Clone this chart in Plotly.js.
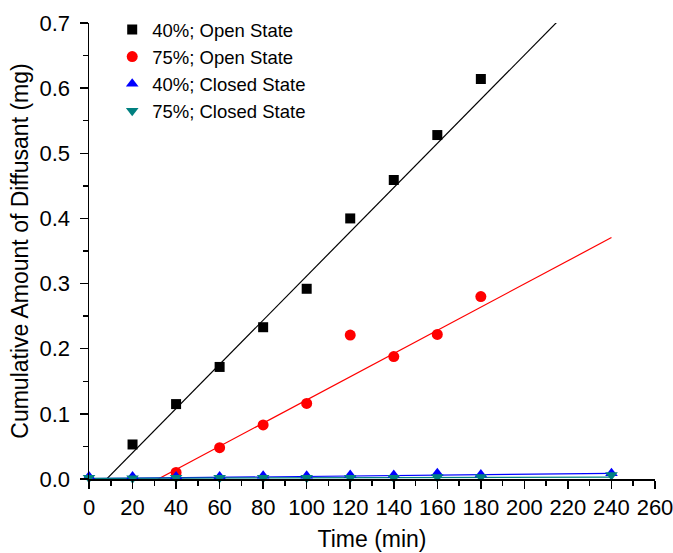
<!DOCTYPE html>
<html>
<head>
<meta charset="utf-8">
<script src="https://cdn.plot.ly/plotly-3.0.1.min.js"></script>
<style>html,body{margin:0;padding:0;background:#fff;}#chart{width:673px;height:553px;}</style>
</head>
<body>
<div id="chart"></div>
<script>
// Data
const timeOpen = [20, 40, 60, 80, 100, 120, 140, 160, 180];
const open40 = [0.053, 0.115, 0.172, 0.233, 0.292, 0.400, 0.459, 0.528, 0.614];
const timeOpen75 = [40, 60, 80, 100, 120, 140, 160, 180];
const open75 = [0.010, 0.048, 0.083, 0.116, 0.221, 0.188, 0.222, 0.280];
const timeClosed = [0, 20, 40, 60, 80, 100, 120, 140, 160, 180, 240];
const closed40 = [0.004, 0.004, 0.004, 0.004, 0.005, 0.005, 0.006, 0.006, 0.009, 0.007, 0.009];
const closed75 = [0.002, 0.001, 0.002, 0.002, 0.002, 0.002, 0.002, 0.002, 0.003, 0.003, 0.006];
const seriesNames = ['40%; Open State', '75%; Open State', '40%; Closed State', '75%; Closed State'];
// Linear fits: [slope, intercept]
const fitOpen40 = [0.003391, -0.0275];
const fitOpen75 = [0.00178, -0.0566];
const fitClosed40 = [0.000034, 0.0005];
const fitClosed75 = [0.0000083, 0.001];
const fitRange = [0, 240];

const line = (f) => fitRange.map(x => f[0] * x + f[1]);
const FONT = 'Liberation Sans, Arial, sans-serif';

const traces = [
  {x: fitRange, y: line(fitOpen40), mode: 'lines', line: {color: 'black', width: 1.2}, showlegend: false, hoverinfo: 'skip'},
  {x: fitRange, y: line(fitOpen75), mode: 'lines', line: {color: 'red', width: 1.2}, showlegend: false, hoverinfo: 'skip'},
  {x: fitRange, y: line(fitClosed40), mode: 'lines', line: {color: 'blue', width: 1.2}, showlegend: false, hoverinfo: 'skip'},
  {x: fitRange, y: line(fitClosed75), mode: 'lines', line: {color: '#008080', width: 1.2}, showlegend: false, hoverinfo: 'skip'},
  {x: timeOpen, y: open40, name: seriesNames[0], mode: 'markers', marker: {symbol: 'square', size: 10, color: 'black'}, cliponaxis: false},
  {x: timeOpen75, y: open75, name: seriesNames[1], mode: 'markers', marker: {symbol: 'circle', size: 11, color: 'red'}, cliponaxis: false},
  {x: timeClosed, y: closed40, name: seriesNames[2], mode: 'markers', marker: {symbol: 'triangle-up', size: 11, color: 'blue'}, cliponaxis: false},
  {x: timeClosed, y: closed75, name: seriesNames[3], mode: 'markers', marker: {symbol: 'triangle-down', size: 11, color: '#008080'}, cliponaxis: false}
];

const layout = {
  width: 673, height: 553,
  margin: {l: 89, r: 18, t: 22, b: 74},
  paper_bgcolor: 'white', plot_bgcolor: 'white',
  font: {family: FONT, color: 'black', size: 22},
  showlegend: true,
  legend: {x: 0.041, y: 1.024, xanchor: 'left', yanchor: 'top', bgcolor: 'rgba(0,0,0,0)', font: {size: 18.5, family: FONT}},
  xaxis: {
    range: [0, 260], dtick: 20, tick0: 0,
    showline: true, linecolor: 'black', linewidth: 1.5,
    ticks: 'outside', ticklen: 8, tickwidth: 1.5, tickcolor: 'black',
    minor: {dtick: 10, ticks: 'outside', ticklen: 5, tickwidth: 1.5, tickcolor: 'black'},
    showgrid: false, zeroline: false,
    tickfont: {size: 22},
    ticklabeloverflow: 'allow',
    title: {text: 'Time (min)', font: {size: 23}, standoff: 12},
    automargin: false
  },
  yaxis: {
    range: [0, 0.7], dtick: 0.1, tick0: 0, tickformat: '.1f',
    showline: true, linecolor: 'black', linewidth: 1.5,
    ticks: 'outside', ticklen: 8, tickwidth: 1.5, tickcolor: 'black',
    minor: {dtick: 0.05, ticks: 'outside', ticklen: 5, tickwidth: 1.5, tickcolor: 'black'},
    showgrid: false, zeroline: false,
    tickfont: {size: 22},
    ticklabelstandoff: 5,
    ticklabeloverflow: 'allow',
    title: {text: 'Cumulative Amount of Diffusant (mg)', font: {size: 23}, standoff: 4},
    automargin: false
  }
};

Plotly.newPlot('chart', traces, layout, {staticPlot: true, displayModeBar: false});
</script>
</body>
</html>
